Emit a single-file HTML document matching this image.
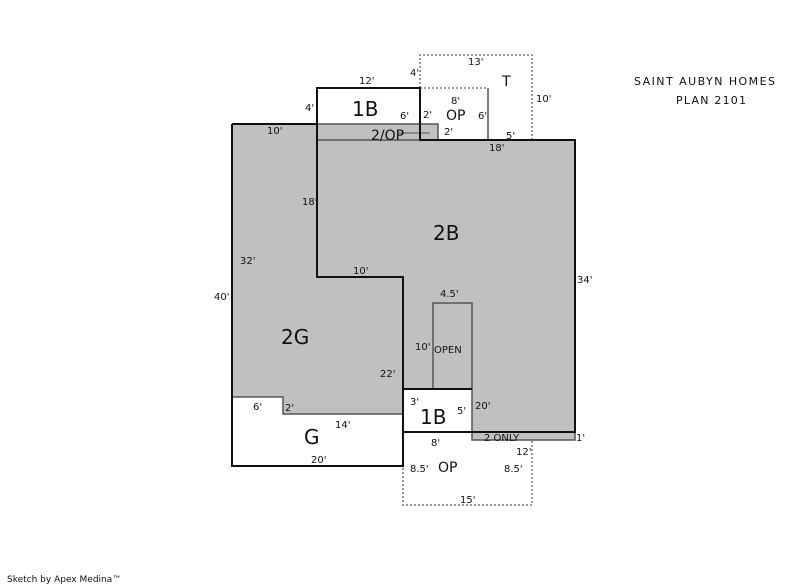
<!DOCTYPE html>
<html><head><meta charset="utf-8"><style>
html,body{margin:0;padding:0;background:#fff;}
svg{display:block}
text{font-family:"DejaVu Sans","Liberation Sans",sans-serif;fill:#111}
.s{font-size:10px}
.l{font-size:20px}
.m{font-size:14px}
</style></head><body>
<svg width="800" height="587" viewBox="0 0 800 587" xmlns="http://www.w3.org/2000/svg">
<polygon points="232,124 438,124 438,140 575,140 575,440 472,440 472,389 403,389 403,414 283,414 283,397 232,397" fill="#c0c0c0"/>
<polygon points="232,397 283,397 283,414 403,414 403,466 232,466" fill="#fff"/>
<g stroke="#555" stroke-width="1.5" fill="none">
<polyline points="232,397 283,397 283,414 403,414"/>
<rect x="317" y="124" width="121" height="16"/>
<rect x="433" y="303" width="39" height="86"/>
<rect x="472" y="432" width="103" height="8"/>
<line x1="472" y1="389" x2="472" y2="432"/>
<line x1="488" y1="88" x2="488" y2="140"/>
<line x1="398" y1="133" x2="430" y2="133" stroke-width="1"/>
</g>
<g stroke="#777" stroke-width="1.5" fill="none" stroke-dasharray="2,2">
<polyline points="420,88 420,55 532,55 532,140"/>
<line x1="420" y1="88" x2="488" y2="88"/>
<polyline points="403,432 403,505 532,505 532,440"/>
</g>
<g stroke="#111" stroke-width="2" fill="none">
<polyline points="232,124 317,124"/>
<polyline points="317,124 317,88 420,88 420,140 575,140 575,432 403,432"/>
<polyline points="232,124 232,466 403,466 403,277 317,277 317,124"/>
<line x1="403" y1="389" x2="472" y2="389"/>
</g>
<text class="l" x="352" y="116">1B</text>
<text class="m" x="371" y="140">2/OP</text>
<text class="m" x="446" y="120">OP</text>
<text class="m" x="502" y="86">T</text>
<text class="l" x="433" y="240">2B</text>
<text class="l" x="281" y="344">2G</text>
<text class="l" x="304" y="444">G</text>
<text class="l" x="420" y="424">1B</text>
<text class="m" x="438" y="472">OP</text>
<text class="s" x="434" y="353">OPEN</text>
<text class="s" x="484" y="441">2 ONLY</text>
<text class="s" x="359" y="84">12'</text>
<text class="s" x="410" y="76">4'</text>
<text class="s" x="468" y="65">13'</text>
<text class="s" x="536" y="102">10'</text>
<text class="s" x="305" y="111">4'</text>
<text class="s" x="400" y="119">6'</text>
<text class="s" x="423" y="118">2'</text>
<text class="s" x="451" y="104">8'</text>
<text class="s" x="478" y="119">6'</text>
<text class="s" x="444" y="135">2'</text>
<text class="s" x="506" y="139">5'</text>
<text class="s" x="489" y="151">18'</text>
<text class="s" x="267" y="134">10'</text>
<text class="s" x="302" y="205">18'</text>
<text class="s" x="240" y="264">32'</text>
<text class="s" x="214" y="300">40'</text>
<text class="s" x="353" y="274">10'</text>
<text class="s" x="440" y="297">4.5'</text>
<text class="s" x="415" y="350">10'</text>
<text class="s" x="380" y="377">22'</text>
<text class="s" x="577" y="283">34'</text>
<text class="s" x="253" y="410">6'</text>
<text class="s" x="285" y="411">2'</text>
<text class="s" x="335" y="428">14'</text>
<text class="s" x="311" y="463">20'</text>
<text class="s" x="410" y="405">3'</text>
<text class="s" x="457" y="414">5'</text>
<text class="s" x="475" y="409">20'</text>
<text class="s" x="576" y="441">1'</text>
<text class="s" x="431" y="446">8'</text>
<text class="s" x="516" y="455">12'</text>
<text class="s" x="410" y="472">8.5'</text>
<text class="s" x="504" y="472">8.5'</text>
<text class="s" x="460" y="503">15'</text>
<text x="634" y="85" style="font-size:11px" textLength="141" lengthAdjust="spacing">SAINT AUBYN HOMES</text>
<text x="676" y="104" style="font-size:11px" textLength="70" lengthAdjust="spacing">PLAN 2101</text>
<text x="7" y="582" style="font-size:9px">Sketch by Apex Medina™</text>
</svg>
</body></html>
